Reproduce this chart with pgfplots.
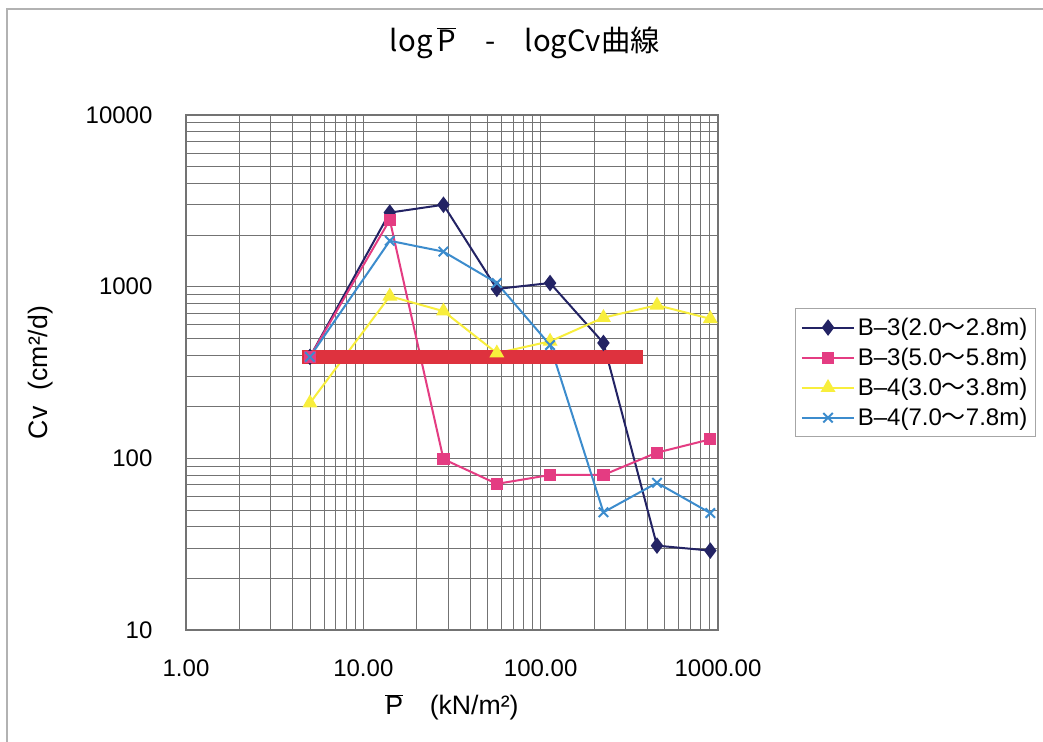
\documentclass[border=0pt]{standalone}
\usepackage{fontspec}
\setmainfont{Liberation Sans}
\newfontfamily\cjk{Noto Sans CJK JP}
\usepackage{pgfplots}
\pgfplotsset{compat=1.18}
\definecolor{navy}{RGB}{35,35,100}
\definecolor{pinkc}{RGB}{228,60,130}
\definecolor{yel}{RGB}{248,238,60}
\definecolor{lblue}{RGB}{60,140,205}
\definecolor{redbar}{RGB}{222,50,62}
\definecolor{gridc}{RGB}{115,115,115}
\begin{document}
\begin{tikzpicture}
\fill[white] (-139.5pt,-84pt) rectangle (642.75pt,472.5pt);
\useasboundingbox (-139.5pt,-84pt) rectangle (642.75pt,472.5pt);
\draw[gray!60, line width=0.8pt] (-134.25pt,-84pt) -- (-134.25pt,465.75pt) -- (642.75pt,465.75pt);
\begin{axis}[
  at={(0,0)}, anchor=south west,
  scale only axis, width=399pt, height=386.25pt,
  xmode=log, ymode=log,
  xmin=1, xmax=1000, ymin=10, ymax=10000,
  xtick={1,10,100,1000}, xticklabels={1.00,10.00,100.00,1000.00},
  ytick={10,100,1000,10000}, yticklabels={10,100,1000,10000},
  minor xtick={2,3,4,5,6,7,8,9,20,30,40,50,60,70,80,90,200,300,400,500,600,700,800,900},
  minor ytick={20,30,40,50,60,70,80,90,200,300,400,500,600,700,800,900,2000,3000,4000,5000,6000,7000,8000,9000},
  grid=both,
  major grid style={gridc, line width=0.65pt},
  minor grid style={gridc, line width=0.65pt},
  major tick length=0pt, minor tick length=0pt,
  axis line style={gridc, line width=0.9pt},
  tick label style={font=\fontsize{18}{20}\selectfont},
  xticklabel style={anchor=north, inner sep=0pt, yshift=-22pt},
  yticklabel style={anchor=east, inner sep=0pt, xshift=-25pt},
  title={log\,$\overline{\mbox{P}}$\quad-\quad logCv曲線},
  title style={at={(axis description cs:0.637,1.125)}, anchor=center, font=\cjk\fontsize{22}{24}\selectfont},
  xlabel={$\overline{\mbox{P}}$\quad(kN/m²)},
  xlabel style={at={(axis description cs:0.5,-0.15)}, anchor=center, font=\fontsize{20}{22}\selectfont},
  ylabel={Cv\hspace{0.6em}(cm²/d)},
  ylabel style={at={(axis description cs:-0.274,0.5)}, anchor=center, font=\fontsize{20}{22}\selectfont},
  legend style={at={(axis description cs:1.145,0.625)}, anchor=north west, draw=gray!70, line width=0.6pt,
    font=\fontsize{18}{20}\selectfont, row sep=4pt, inner xsep=4pt, inner ysep=5pt, cells={anchor=west}},
  legend cell align=left,
  legend image code/.code={\draw[mark repeat=2, mark phase=2] plot coordinates {(0cm,0cm) (0.69cm,0cm) (1.38cm,0cm)};},
]
\addplot[navy, line width=1.5pt, mark=diamond*, mark size=5pt, mark options={solid, fill=navy}]
  coordinates {(5,390) (14.1,2700) (28.3,3000) (56.6,970) (113,1050) (226,470) (453,31) (905,29)};
\addlegendentry{B–3(2.0{\cjk ～}2.8m)}
\addplot[pinkc, line width=1.5pt, mark=square*, mark size=3.8pt, mark options={solid, fill=pinkc}]
  coordinates {(5,390) (14.1,2450) (28.3,99) (56.6,71) (113,80) (226,80) (453,108) (905,129)};
\addlegendentry{B–3(5.0{\cjk ～}5.8m)}
\addplot[yel, line width=1.5pt, mark=triangle*, mark size=5pt, mark options={solid, fill=yel}]
  coordinates {(5,210) (14.1,880) (28.3,720) (56.6,410) (113,480) (226,660) (453,780) (905,650)};
\addlegendentry{B–4(3.0{\cjk ～}3.8m)}
\addplot[lblue, line width=1.5pt, mark=x, mark size=5pt, mark options={solid, line width=1.5pt}]
  coordinates {(5,390) (14.1,1850) (28.3,1600) (56.6,1050) (113,457) (226,48.5) (453,72) (905,48)};
\addlegendentry{B–4(7.0{\cjk ～}7.8m)}
\addplot[redbar, line width=11pt, forget plot] coordinates {(4.5,390) (378,390)};
\end{axis}
\end{tikzpicture}
\end{document}
